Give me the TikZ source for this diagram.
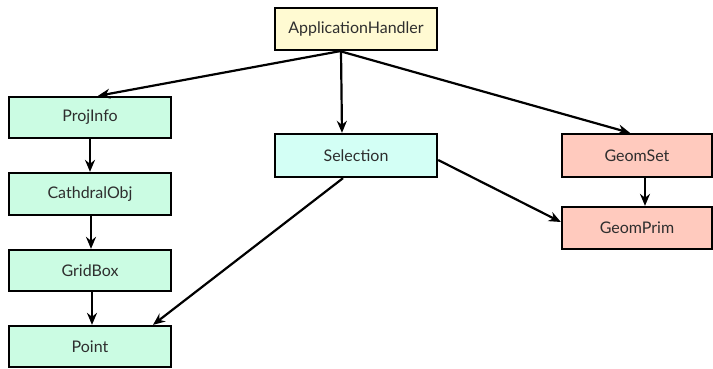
\documentclass[tikz,border=0pt]{standalone}
\usepackage{fontspec}
\setmainfont{Lato}
\usetikzlibrary{arrows.meta}
\definecolor{cyel}{HTML}{FFFAD2}
\definecolor{cgrn}{HTML}{CBFCE3}
\definecolor{ccyn}{HTML}{D3FFF5}
\definecolor{cpnk}{HTML}{FFCABE}
\definecolor{ctxt}{HTML}{2E2E2E}
\tikzset{
  box/.style={draw=black, line width=2.3pt, minimum width=#1, inner sep=0pt, font=\fontsize{16}{18}\selectfont, text=ctxt},
  conn/.style={line width=2.2pt, -{Stealth[length=12pt,width=10pt]}},
}
\begin{document}
\begin{tikzpicture}[x=1pt,y=-1pt]
\useasboundingbox (0,0) rectangle (713,368);
\node[box=162pt, minimum height=42pt, fill=cyel] (AH) at (356,29) {ApplicationHandler};
\node[box=162pt, minimum height=41pt, fill=cgrn] (PI) at (90,117.5) {ProjInfo};
\node[box=162pt, minimum height=42pt, fill=cgrn] (CO) at (90,194) {CathdralObj};
\node[box=162pt, minimum height=41pt, fill=cgrn] (GB) at (90,270.5) {GridBox};
\node[box=162pt, minimum height=41pt, fill=cgrn] (PT) at (90,346.5) {Point};
\node[box=162pt, minimum height=43pt, fill=ccyn] (SE) at (356,155.5) {Selection};
\node[box=150pt, minimum height=43pt, fill=cpnk] (GS) at (637,155.5) {GeomSet};
\node[box=150pt, minimum height=42pt, fill=cpnk] (GP) at (637,228) {GeomPrim};
\draw[conn] ([xshift=-16pt]AH.south) -- ([xshift=8pt]PI.north);
\draw[conn] ([xshift=-15pt]AH.south) -- ([xshift=-14pt]SE.north);
\draw[conn] ([xshift=-16pt]AH.south) -- ([xshift=-7pt]GS.north);
\draw[conn] (PI.south) -- (CO.north);
\draw[conn] ([xshift=1pt]CO.south) -- ([xshift=1pt]GB.north);
\draw[conn] ([xshift=2pt]GB.south) -- ([xshift=2pt]PT.north);
\draw[conn] ([xshift=-13pt]SE.south) -- ([xshift=63pt]PT.north);
\draw[conn] ([yshift=-4.5pt]SE.east) -- ([yshift=6pt]GP.west);
\draw[conn] ([xshift=8pt]GS.south) -- ([xshift=8pt]GP.north);
\end{tikzpicture}
\end{document}
